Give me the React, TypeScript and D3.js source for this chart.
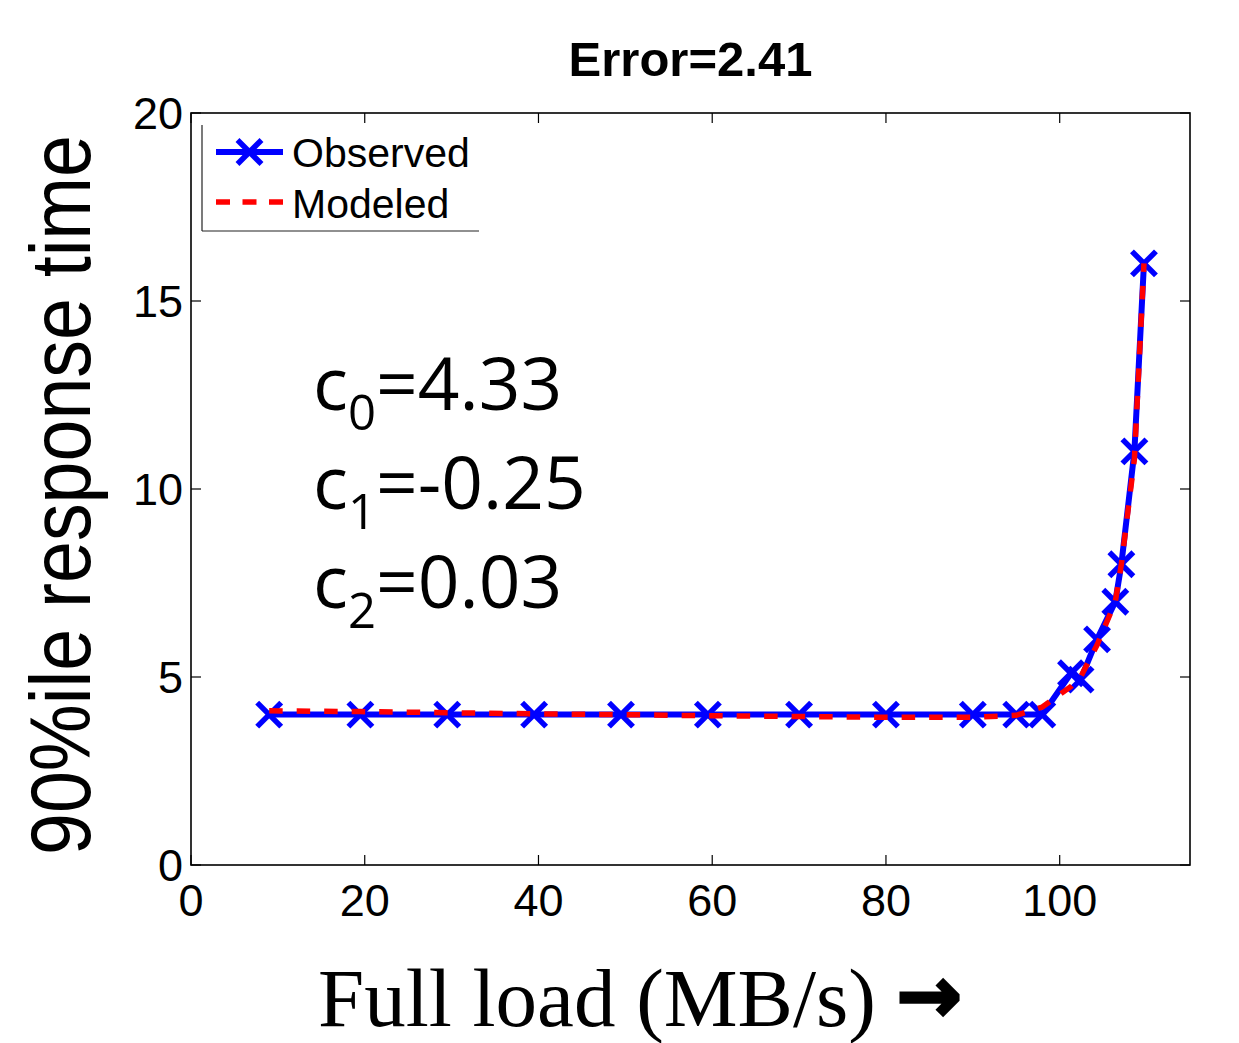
import React from 'react';
import * as d3 from 'd3';

// values
const loadX = [9, 19.5, 29.5, 39.5, 49.5, 59.5, 70, 80, 90, 95, 98, 101.3, 102.4, 104.3, 106.4, 107.1, 108.6, 109.7];
const observedY = [4, 4, 4, 4, 4, 4, 4, 4, 4, 4, 4, 5.1, 4.93, 6.0, 7.0, 8.0, 11.0, 16.0];
const modeledY = [4.1, 4.08, 4.05, 4.02, 4.0, 3.97, 3.95, 3.93, 3.93, 3.98, 4.2, 4.75, 5.0, 5.85, 7.0, 8.0, 10.8, 16.0];
const xTicks = [0, 20, 40, 60, 80, 100];
const yTicks = [0, 5, 10, 15, 20];
const coefLabels = [
  { sub: '0', value: '=4.33' },
  { sub: '1', value: '=-0.25' },
  { sub: '2', value: '=0.03' },
];

const W = 1239;
const H = 1043;
const margin = { top: 113, right: 49, bottom: 178, left: 191 };
const axisFont = '"Liberation Sans", Arial, Helvetica, sans-serif';

const App = () => {
  const x = d3.scaleLinear().domain([0, 115]).range([margin.left, W - margin.right]);
  const y = d3.scaleLinear().domain([0, 20]).range([H - margin.bottom, margin.top]);

  const obs = loadX.map((v, i) => ({ x: v, y: observedY[i] }));
  const mod = loadX.map((v, i) => ({ x: v, y: modeledY[i] }));

  const line = d3.line<{ x: number; y: number }>()
    .x(d => x(d.x))
    .y(d => y(d.y));

  const x0 = x(0), x1 = x(115), y0 = y(0), y1 = y(20);
  const tick = 10;
  const m = 12; // marker half size

  const marker = (cx: number, cy: number, key: any) => (
    <g key={key} stroke="#0000ff" strokeWidth={5.5}>
      <line x1={cx - m} y1={cy - m} x2={cx + m} y2={cy + m} />
      <line x1={cx - m} y1={cy + m} x2={cx + m} y2={cy - m} />
    </g>
  );

  return (
    <svg width={W} height={H} style={{ position: 'absolute', left: 0, top: 0, background: '#fff' }}>
      <rect width={W} height={H} fill="#fff" />

      {/* title */}
      <text x={(x0 + x1) / 2} y={76} textAnchor="middle" fontFamily={axisFont} fontWeight="bold" fontSize={49}>
        Error=2.41
      </text>

      {/* ticks */}
      <g stroke="#000" strokeWidth={1.2}>
        {xTicks.map(t => (
          <g key={'xt' + t}>
            <line x1={x(t)} x2={x(t)} y1={y0} y2={y0 - tick} />
            <line x1={x(t)} x2={x(t)} y1={y1} y2={y1 + tick} />
          </g>
        ))}
        {yTicks.map(t => (
          <g key={'yt' + t}>
            <line x1={x0} x2={x0 + tick} y1={y(t)} y2={y(t)} />
            <line x1={x1} x2={x1 - tick} y1={y(t)} y2={y(t)} />
          </g>
        ))}
      </g>

      {/* tick labels */}
      <g fontFamily={axisFont} fontSize={45} fill="#000">
        {xTicks.map(t => (
          <text key={'xl' + t} x={x(t)} y={y0 + 51} textAnchor="middle">{t}</text>
        ))}
        {yTicks.map(t => (
          <text key={'yl' + t} x={x0 - 8} y={y(t) + 16} textAnchor="end">{t}</text>
        ))}
      </g>

      {/* observed */}
      <path d={line(obs) || ''} fill="none" stroke="#0000ff" strokeWidth={6} strokeLinejoin="round" />
      {obs.map((d, i) => marker(x(d.x), y(d.y), 'm' + i))}

      {/* modeled */}
      <path d={line(mod) || ''} fill="none" stroke="#ff0000" strokeWidth={5.5} strokeDasharray="13.5 14" />

      {/* box */}
      <rect x={x0} y={y1} width={x1 - x0} height={y0 - y1} fill="none" stroke="#000" strokeWidth={1.6} />

      {/* legend */}
      <g>
        <line x1={202} y1={125} x2={202} y2={231} stroke="#222" strokeWidth={1.2} />
        <line x1={202} y1={231} x2={479} y2={231} stroke="#222" strokeWidth={1.2} />
        <line x1={216} y1={152} x2={283} y2={152} stroke="#0000ff" strokeWidth={6} />
        {marker(249.5, 152, 'lm')}
        <line x1={216} y1={202} x2={283} y2={202} stroke="#ff0000" strokeWidth={5.5} strokeDasharray="14 12.5" />
        <text x={292} y={167} fontFamily={axisFont} fontSize={41}>Observed</text>
        <text x={292} y={218} fontFamily={axisFont} fontSize={41}>Modeled</text>
      </g>

      {/* coefficients */}
      <g fontFamily='"Open Sans", "Noto Sans", sans-serif' fill="#000">
        {coefLabels.map((c, i) => (
          <text key={'c' + i} x={313} y={410 + i * 99} fontSize={73}>
            c<tspan fontSize={49} dy={20}>{c.sub}</tspan><tspan dy={-20}>{c.value}</tspan>
          </text>
        ))}
      </g>

      {/* y label */}
      <text
        transform={`translate(90,${(135 + 855) / 2}) rotate(-90)`}
        textAnchor="middle"
        fontFamily='"Liberation Sans Narrow", "Arial Narrow", "Liberation Sans", sans-serif'
        fontSize={86}
        textLength={720}
        lengthAdjust="spacingAndGlyphs"
      >
        90%ile response time
      </text>

      {/* x label */}
      <text x={318} y={1026} fontFamily='"Liberation Serif", "Times New Roman", serif' fontSize={83}>
        Full load (MB/s) <tspan fontFamily='"DejaVu Sans", sans-serif' fontWeight="bold" fontSize={78}
          stroke="#000" strokeWidth={3} dy={-4}>→</tspan>
      </text>
    </svg>
  );
};

export default App;
